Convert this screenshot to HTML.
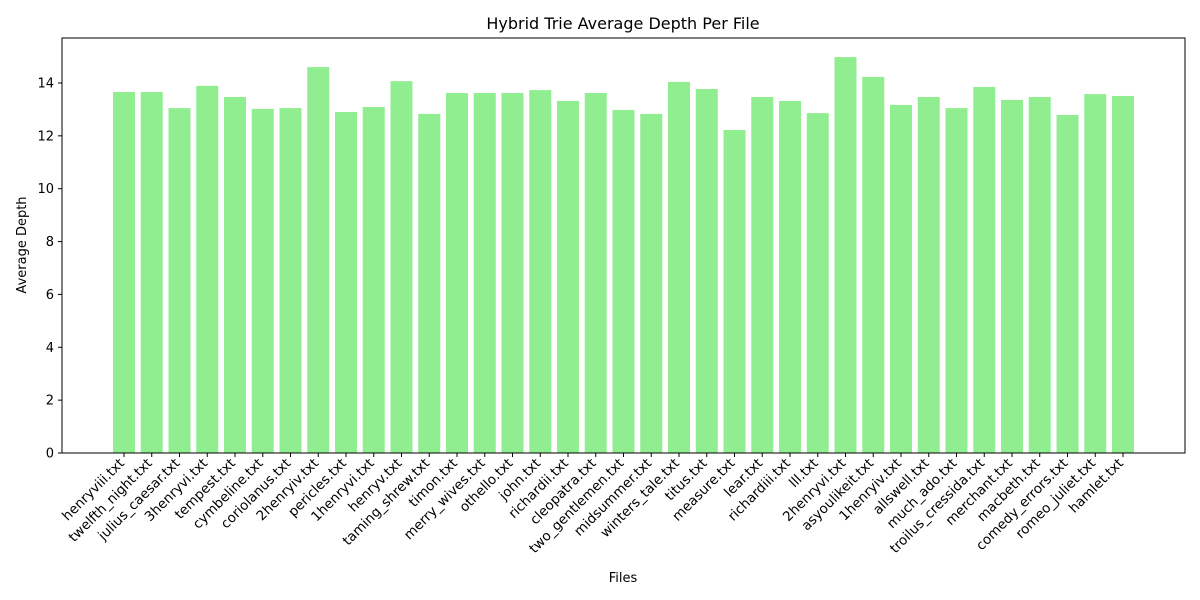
<!DOCTYPE html>
<html><head><meta charset="utf-8"><style>
body{margin:0;background:#fff;}
svg{display:block;font-family:"DejaVu Sans","Liberation Sans",sans-serif;}
</style></head><body>
<svg id="chart" width="1200" height="600">
<rect width="1200" height="600" fill="#fff"/>
<text x="623" y="29" text-anchor="middle" font-size="16">Hybrid Trie Average Depth Per File</text>
<g id="bars"></g><g id="xt"></g><g id="yt"></g>
<rect x="62" y="38" width="1123" height="415" fill="none" stroke="#000" stroke-width="1"/>
<text x="623" y="582" text-anchor="middle" font-size="13">Files</text>
<text transform="translate(26,245) rotate(-90)" text-anchor="middle" font-size="13">Average Depth</text>
</svg>
<script>
const files=["henryviii.txt","twelfth_night.txt","julius_caesar.txt","3henryvi.txt","tempest.txt","cymbeline.txt","coriolanus.txt","2henryiv.txt","pericles.txt","1henryvi.txt","henryv.txt","taming_shrew.txt","timon.txt","merry_wives.txt","othello.txt","john.txt","richardii.txt","cleopatra.txt","two_gentlemen.txt","midsummer.txt","winters_tale.txt","titus.txt","measure.txt","lear.txt","richardiii.txt","lll.txt","2henryvi.txt","asyoulikeit.txt","1henryiv.txt","allswell.txt","much_ado.txt","troilus_cressida.txt","merchant.txt","macbeth.txt","comedy_errors.txt","romeo_juliet.txt","hamlet.txt"];
const depths=[13.66,13.66,13.05,13.89,13.47,13.02,13.05,14.6,12.9,13.09,14.07,12.83,13.62,13.62,13.62,13.73,13.32,13.62,12.98,12.83,14.04,13.77,12.22,13.47,13.32,12.86,14.98,14.23,13.17,13.47,13.05,13.85,13.36,13.47,12.79,13.58,13.51];
const yTicks=[0,2,4,6,8,10,12,14];
const NS="http://www.w3.org/2000/svg";
const y=v=>453-v*26.43;
const step=27.75;
const x=i=>124+i*step;
const bw=22;
const bars=document.getElementById('bars'),xt=document.getElementById('xt'),yt=document.getElementById('yt');
function mk(t,a){const e=document.createElementNS(NS,t);for(const k in a)e.setAttribute(k,a[k]);return e;}
files.forEach((f,i)=>{
 const r=mk('rect',{x:x(i)-bw/2,y:y(depths[i]),width:bw,height:453-y(depths[i]),fill:'#90ee90'});
 
 
 bars.appendChild(r);
 const tk=mk('line',{x1:x(i),x2:x(i),y1:453,y2:457,stroke:'#000'});
 
 
 xt.appendChild(tk);
 const t=mk('text',{transform:`translate(${x(i)+1},${464}) rotate(-45)`,'text-anchor':'end','font-size':'13.5'});
 
 
 t.textContent=f;xt.appendChild(t);
});
yTicks.forEach(v=>{
 const tk=mk('line',{x1:58,x2:62,y1:y(v),y2:y(v),stroke:'#000'});
 
 
 yt.appendChild(tk);
 const t=mk('text',{x:54,y:y(v)+4.5,'text-anchor':'end','font-size':'13'});
 
 
 t.textContent=v;yt.appendChild(t);
});
</script>
</body></html>
